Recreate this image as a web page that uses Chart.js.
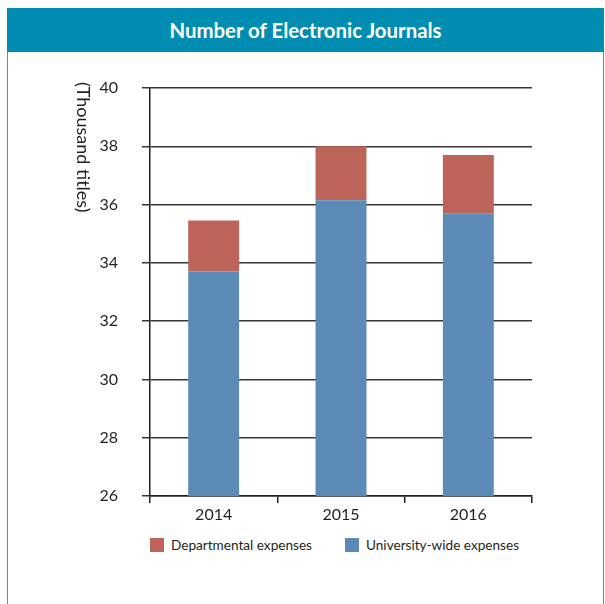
<!DOCTYPE html>
<html>
<head>
<meta charset="utf-8">
<script src="https://cdn.jsdelivr.net/npm/chart.js@4"></script>
<style>
  html, body { margin: 0; padding: 0; background: #fff; }
  #wrap { position: relative; width: 605px; height: 604px; overflow: hidden; }
  #frame { position: absolute; left: 7px; top: 8px; width: 595px; height: 600px;
           border-left: 1px solid #2aa3cf; border-right: 1px solid #2aa3cf; }
  #band { position: absolute; left: 7px; top: 8px; width: 597px; height: 44px; background: #008db1;
          color: #fff; font: bold 20.4px Lato, sans-serif; text-align: center; line-height: 44px; }
  #box { position: absolute; left: 0; top: 52px; width: 605px; height: 478px; }
  #legend { position: absolute; left: 150px; top: 537px; font: 13.6px Lato, sans-serif; color: #231f20;
            display: flex; align-items: center; white-space: nowrap; }
  #legend span.sw { display: inline-block; width: 14px; height: 14px; margin-right: 7px; }
  #legend .item { display: flex; align-items: center; margin-right: 33px; }
</style>
</head>
<body>
<div id="wrap">
  <div id="frame"></div>
  <div id="band">Number of Electronic Journals</div>
  <div id="box"><canvas id="journalsChart"></canvas></div>
  <div id="legend"></div>
</div>
<script>
const years = ['2014', '2015', '2016'];
const universityWide = [33.7, 36.15, 35.7];
const departmental = [1.75, 1.85, 2.0];
const yTicks = [26, 28, 30, 32, 34, 36, 38, 40];

const axisTitle = {
    id: 'axisTitle',
    afterDraw(chart) {
        const ctx = chart.ctx;
        ctx.save();
        ctx.translate(83, 30);
        ctx.rotate(Math.PI / 2);
        ctx.font = '18px Lato, sans-serif';
        ctx.fillStyle = '#231f20';
        ctx.textAlign = 'left';
        ctx.textBaseline = 'middle';
        ctx.fillText('(Thousand titles)', 0, 0);
        ctx.restore();
    }
};

const chart = new Chart(document.getElementById('journalsChart'), {
    type: 'bar',
    data: {
        labels: years,
        datasets: [
            {
                label: 'University-wide expenses',
                data: universityWide,
                backgroundColor: '#5b8ab6',
                barPercentage: 0.4,
                categoryPercentage: 1
            },
            {
                label: 'Departmental expenses',
                data: departmental,
                backgroundColor: '#bd645a',
                barPercentage: 0.4,
                categoryPercentage: 1
            }
        ]
    },
    options: {
        responsive: true,
        maintainAspectRatio: false,
        animation: false,
        layout: { padding: { left: 0, right: 73, top: 36, bottom: 0 } },
        scales: {
            x: {
                stacked: true,
                grid: { drawOnChartArea: false, drawTicks: true, tickLength: 7, color: '#231f20', lineWidth: 1.5 },
                border: { color: '#231f20', width: 1.5 },
                ticks: { color: '#231f20', font: { family: 'Lato', size: 16 }, padding: 2 },
                afterFit: s => { s.height = 34; }
            },
            y: {
                stacked: true,
                min: 26,
                max: 40,
                afterBuildTicks: s => { s.ticks = yTicks.map(v => ({ value: v })); },
                grid: { color: '#3a3535', lineWidth: 1.5, tickLength: 8 },
                border: { color: '#231f20', width: 1.5 },
                ticks: { color: '#231f20', font: { family: 'Lato', size: 16 }, padding: 24 },
                afterFit: s => { s.width = 150; }
            }
        },
        plugins: {
            legend: { display: false },
            tooltip: { enabled: false }
        }
    },
    plugins: [axisTitle]
});

// legend, top series first
const legendEl = document.getElementById('legend');
chart.data.datasets.slice().reverse().forEach(ds => {
    const item = document.createElement('div');
    item.className = 'item';
    item.innerHTML = '<span class="sw" style="background:' + ds.backgroundColor + '"></span>' + ds.label;
    legendEl.appendChild(item);
});
</script>
</body>
</html>
